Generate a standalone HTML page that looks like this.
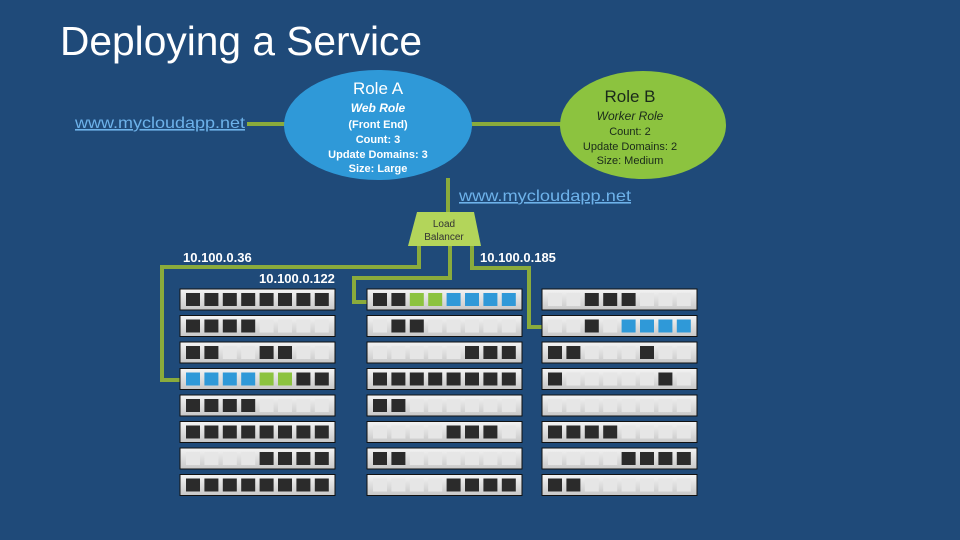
<!DOCTYPE html>
<html><head><meta charset="utf-8"><style>
html,body{margin:0;padding:0;background:#1f4a79;}
svg{display:block;}
text{font-family:"Liberation Sans",sans-serif;}
</style></head><body>
<svg id="s" width="960" height="540" viewBox="0 0 960 540" xmlns="http://www.w3.org/2000/svg">
<rect width="960" height="540" fill="#1f4a79"/>
<text x="60" y="55" font-size="41" fill="#fff" textLength="362" lengthAdjust="spacingAndGlyphs">Deploying a Service</text>
<g stroke="#8aab3c" stroke-width="4" fill="none">
<line x1="247" y1="124" x2="290" y2="124"/>
<line x1="468" y1="124" x2="570" y2="124"/>
<line x1="448" y1="178" x2="448" y2="214"/>
<polyline points="419,244 419,267 162,267 162,380 184,380"/>
<polyline points="450,244 450,278 354,278 354,302 369,302"/>
<polyline points="472,244 472,268 529,268 529,327 544,327"/>
</g>
<ellipse cx="378" cy="125" rx="94" ry="55" fill="#2f99d8"/>
<ellipse cx="643" cy="125" rx="83" ry="54" fill="#8cc33f"/>
<g fill="#fff" text-anchor="middle" font-weight="bold">
<text x="378" y="94" font-size="17" font-weight="normal">Role A</text>
<text x="378" y="112" font-size="12" font-style="italic">Web Role</text>
<text x="378" y="128" font-size="11">(Front End)</text>
<text x="378" y="143" font-size="11">Count: 3</text>
<text x="378" y="158" font-size="11">Update Domains: 3</text>
<text x="378" y="172" font-size="11">Size: Large</text>
</g>
<g fill="#1a2a1a" text-anchor="middle">
<text x="630" y="102" font-size="17">Role B</text>
<text x="630" y="120" font-size="12" font-style="italic">Worker Role</text>
<text x="630" y="135" font-size="11">Count: 2</text>
<text x="630" y="150" font-size="11">Update Domains: 2</text>
<text x="630" y="164" font-size="11">Size: Medium</text>
</g>
<text x="75" y="128" font-size="16" fill="#6db2ea" text-decoration="underline" textLength="170" lengthAdjust="spacingAndGlyphs">www.mycloudapp.net</text>
<text x="459" y="201" font-size="16" fill="#6db2ea" text-decoration="underline" textLength="172" lengthAdjust="spacingAndGlyphs">www.mycloudapp.net</text>
<polygon points="417,212 474,212 481,246 408,246" fill="#b3d55a"/>
<text x="444" y="227" font-size="10" fill="#333" text-anchor="middle">Load</text>
<text x="444" y="240" font-size="10" fill="#333" text-anchor="middle">Balancer</text>
<g fill="#fff" font-weight="bold" font-size="13">
<text x="183" y="262">10.100.0.36</text>
<text x="259" y="283">10.100.0.122</text>
<text x="480" y="262">10.100.0.185</text>
</g>
<g id="racks"></g>
</svg>
<script>
var cols=[180,367,542];
var pat=[
["DDDDDDDD","DDDDLLLL","DDLLDDLL","BBBBGGDD","DDDDLLLL","DDDDDDDD","LLLLDDDD","DDDDDDDD"],
["DDGGBBBB","LDDLLLLL","LLLLLDDD","DDDDDDDD","DDLLLLLL","LLLLDDDL","DDLLLLLL","LLLLDDDD"],
["LLDDDLLL","LLDLBBBB","DDLLLDLL","DLLLLLDL","LLLLLLLL","DDDDLLLL","LLLLDDDD","DDLLLLLL"]];
var h='<defs><linearGradient id="g" x1="0" y1="0" x2="0" y2="1"><stop offset="0" stop-color="#f4f4f4"/><stop offset="1" stop-color="#c8c8c8"/></linearGradient></defs>';
for(var c=0;c<3;c++){for(var r=0;r<8;r++){var x=cols[c],y=289+r*26.5;
h+='<rect x="'+x+'" y="'+y+'" width="155" height="21" fill="url(#g)" stroke="#111" stroke-width="1"/>';
var p=pat[c][r];
for(var i=0;i<8;i++){var ch=p[i],sx=x+6+i*18.4,col=ch=="D"?"#2b2b2b":ch=="B"?"#2f99d8":ch=="G"?"#8cc33f":"#e6e6e6";
h+='<rect x="'+sx+'" y="'+(y+4)+'" width="14" height="13" fill="'+col+'"/>';}
}}
document.getElementById("racks").innerHTML=h;
</script>
</body></html>
